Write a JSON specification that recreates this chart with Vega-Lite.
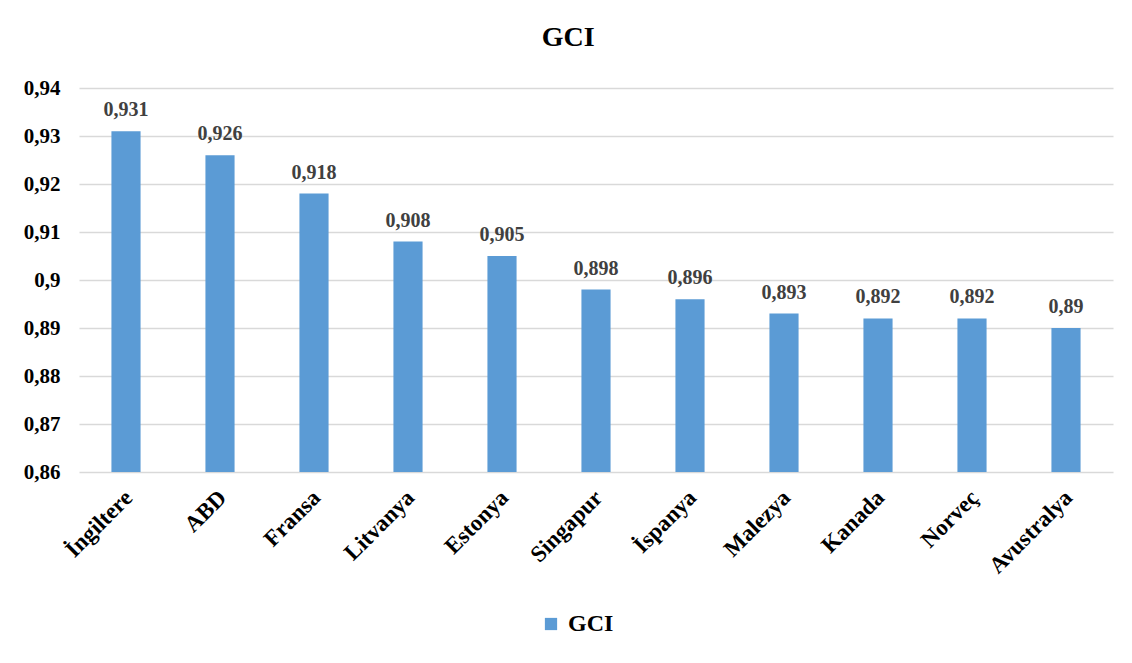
{
  "$schema": "https://vega.github.io/schema/vega-lite/v6.json",
  "width": 1034,
  "height": 384,
  "autosize": {"type": "none"},
  "padding": {"left": 79, "top": 88, "right": 19, "bottom": 191},
  "background": "white",
  "config": {
    "locale": {"number": {"decimal": ",", "thousands": ".", "grouping": [3], "currency": ["", ""]}},
    "font": "Liberation Serif",
    "view": {"stroke": null},
    "legend": {"labelFont": "Liberation Serif", "labelFontWeight": "bold"}
  },
  "title": {
    "text": "GCI",
    "font": "Liberation Serif",
    "fontSize": 28,
    "fontWeight": "bold",
    "color": "#000000",
    "anchor": "middle",
    "frame": "bounds",
    "offset": 25
  },
  "data": {
    "values": [
      {"ulke": "İngiltere", "gci": 0.931, "seri": "GCI"},
      {"ulke": "ABD", "gci": 0.926, "seri": "GCI"},
      {"ulke": "Fransa", "gci": 0.918, "seri": "GCI"},
      {"ulke": "Litvanya", "gci": 0.908, "seri": "GCI"},
      {"ulke": "Estonya", "gci": 0.905, "seri": "GCI"},
      {"ulke": "Singapur", "gci": 0.898, "seri": "GCI"},
      {"ulke": "İspanya", "gci": 0.896, "seri": "GCI"},
      {"ulke": "Malezya", "gci": 0.893, "seri": "GCI"},
      {"ulke": "Kanada", "gci": 0.892, "seri": "GCI"},
      {"ulke": "Norveç", "gci": 0.892, "seri": "GCI"},
      {"ulke": "Avustralya", "gci": 0.89, "seri": "GCI"}
    ]
  },
  "encoding": {
    "x": {
      "field": "ulke",
      "type": "nominal",
      "sort": null,
      "title": null,
      "scale": {"paddingInner": 0.69, "paddingOuter": 0.345},
      "axis": {
        "labelAngle": -45,
        "labelFont": "Liberation Serif",
        "labelFontSize": 23,
        "labelFontWeight": "bold",
        "labelColor": "#000000",
        "labelPadding": 14,
        "labelOffset": -5,
        "domain": false,
        "ticks": false,
        "grid": false
      }
    },
    "y": {
      "field": "gci",
      "type": "quantitative",
      "title": null,
      "scale": {"domain": [0.86, 0.94], "nice": false, "zero": false},
      "axis": {
        "values": [0.86, 0.87, 0.88, 0.89, 0.9, 0.91, 0.92, 0.93, 0.94],
        "format": "~g",
        "labelFont": "Liberation Serif",
        "labelFontSize": 21,
        "labelFontWeight": "bold",
        "labelColor": "#000000",
        "labelPadding": 19,
        "domain": false,
        "ticks": false,
        "grid": true,
        "gridColor": "#d9d9d9",
        "gridWidth": 1.5
      }
    }
  },
  "layer": [
    {
      "mark": {"type": "bar", "clip": true},
      "encoding": {
        "color": {
          "field": "seri",
          "type": "nominal",
          "scale": {"range": ["#5b9bd5"]},
          "legend": {
            "title": null,
            "orient": "none",
            "legendX": 460,
            "legendY": 524,
            "direction": "horizontal",
            "symbolType": "square",
            "symbolSize": 150,
            "symbolStrokeWidth": 0,
            "labelFont": "Liberation Serif",
            "labelFontSize": 24,
            "labelFontWeight": "bold",
            "labelColor": "#000000",
            "labelOffset": 5
          }
        }
      }
    },
    {
      "mark": {
        "type": "text",
        "baseline": "bottom",
        "dy": -11,
        "font": "Liberation Serif",
        "fontSize": 20,
        "fontWeight": "bold",
        "color": "#404040"
      },
      "encoding": {
        "text": {"field": "gci", "type": "quantitative", "format": "~g"}
      }
    }
  ]
}
